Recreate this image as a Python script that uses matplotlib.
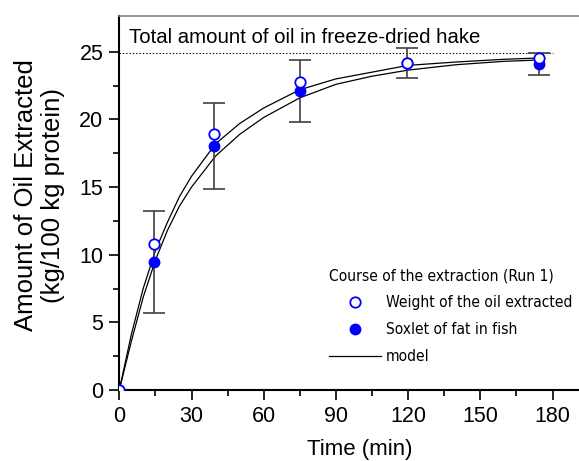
import matplotlib
matplotlib.use("Agg")
import matplotlib.pyplot as plt
from matplotlib import font_manager

# measured points (time in min, oil in kg/100 kg protein)
time_pts = [0, 14.5, 39.5, 75, 119.5, 174.5]
oil_weight = [0, 10.79, 18.92, 22.74, 24.21, 24.55]
oil_soxhlet = [0, 9.47, 18.05, 22.08, 24.2, 24.08]
soxhlet_err = [0, 3.79, 3.2, 2.29, 1.11, 0.8]

# model curves
model_t = [0, 5, 10, 15, 20, 25, 30, 40, 50, 60, 75, 90, 105, 120, 140, 160, 175]
model_upper = [0, 4.1, 7.55, 10.3, 12.4, 14.3, 15.8, 18.2, 19.7, 20.85, 22.2, 23.0, 23.5, 24.0, 24.25, 24.45, 24.55]
model_lower = [0, 3.6, 6.9, 9.6, 11.8, 13.6, 15.0, 17.3, 18.9, 20.15, 21.6, 22.6, 23.2, 23.65, 24.05, 24.3, 24.4]

total_oil = 24.9
leg_title = "Course of the extraction (Run 1)"

W, H = 579, 461
fig = plt.figure(figsize=(W / 100, H / 100), dpi=100)
renderer = fig.canvas.get_renderer()

# legend uses a narrow face if one is installed, sized so the title is ~226 px wide
cond = [f for f in font_manager.fontManager.ttflist
        if ("Narrow" in f.name or "Condensed" in f.name or f.stretch in ("condensed", "semi-condensed"))
        and f.style == "normal" and f.weight in (400, "normal")]
if cond:
    leg_font = font_manager.FontProperties(fname=cond[0].fname, size=14)
else:
    leg_font = font_manager.FontProperties(family="Liberation Sans", size=14)
probe = fig.text(0, 0, leg_title, fontproperties=leg_font)
w = probe.get_window_extent(renderer).width
probe.remove()
leg_font.set_size(14 * 226 / w)
fpx = leg_font.get_size() * 100 / 72

# axes run a bit past the right edge of the picture (x up to 200)
ax = fig.add_axes([119.3 / W, 71 / H, (600.7 - 119.3) / W, (390 - 16) / H])

regular = ["Liberation Sans", "DejaVu Sans"]

ax.plot([0, 180], [total_oil, total_oil], color="black", lw=0.8,
        linestyle=(0, (1.2, 1.8)), zorder=1)
ax.text(4, 25.65, "Total amount of oil in freeze-dried hake", family=regular,
        fontsize=14.7, va="baseline", ha="left")

ax.plot(model_t, model_upper, color="black", lw=0.9, zorder=2)
ax.plot(model_t, model_lower, color="black", lw=0.9, zorder=2, label="model")

ax.errorbar(time_pts[1:], oil_soxhlet[1:], yerr=soxhlet_err[1:], fmt="none",
            ecolor="#404040", elinewidth=1.2, capsize=8, capthick=1.2, zorder=3)

ax.plot(time_pts, oil_soxhlet, "o", ms=7.5, mfc="#0000ff", mec="#0000ff", mew=1.0,
        zorder=4, label="Soxlet of fat in fish")
ax.plot(time_pts, oil_weight, "o", ms=7.5, mfc="white", mec="#0000ff", mew=1.3,
        zorder=5, label="Weight of the oil extracted")

ax.set_xlim(0, 200)
ax.set_ylim(0, 27.65)
ax.set_xticks(range(0, 181, 30))
ax.set_xticks(range(15, 200, 30), minor=True)
ax.set_yticks(range(0, 26, 5))
ax.set_yticks([2.5, 7.5, 12.5, 17.5, 22.5], minor=True)

for s in ["left", "bottom"]:
    ax.spines[s].set_linewidth(1.5)
ax.spines["top"].set_color("#808080")
ax.spines["top"].set_linewidth(1.2)
ax.spines["right"].set_visible(False)
ax.tick_params(which="major", direction="out", length=7.5, width=1.2, pad=4,
               labelsize=15.5)
ax.tick_params(which="minor", direction="out", length=4, width=1.2)
for lab in ax.get_xticklabels() + ax.get_yticklabels():
    lab.set_family(regular)

ax.set_xlabel("Time (min)", family=regular, fontsize=16, labelpad=9)
ax.set_ylabel("Amount of Oil Extracted\n(kg/100 kg protein)", family=regular,
              fontsize=18.5, labelpad=10, linespacing=1.2)
ax.yaxis.label.set_y(0.52)

handles, labels = ax.get_legend_handles_labels()
order = [2, 1, 0]
pad = 6 / fpx
leg = ax.legend([handles[i] for i in order], [labels[i] for i in order],
                title=leg_title, alignment="left",
                loc="lower left", bbox_to_anchor=(323 / W, 1 - 370 / H),
                bbox_transform=fig.transFigure, frameon=False, borderpad=pad,
                borderaxespad=0, handlelength=52 / fpx,
                handletextpad=0.3, labelspacing=0.76, prop=leg_font)
leg.get_title().set_fontproperties(leg_font)

fig.savefig("out.png", dpi=100)
